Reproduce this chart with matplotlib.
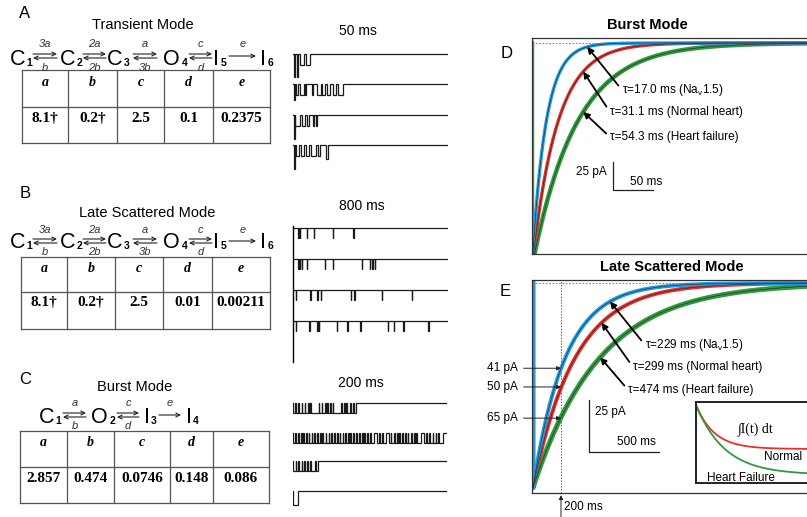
import numpy as np
import matplotlib
matplotlib.use("Agg")
import matplotlib.pyplot as plt
from matplotlib.transforms import blended_transform_factory

plt.rcParams["font.family"] = ["Liberation Sans", "DejaVu Sans"]
plt.rcParams["mathtext.fontset"] = "custom"
plt.rcParams["mathtext.rm"] = "Liberation Sans"
plt.rcParams["mathtext.it"] = "Liberation Sans:italic"

# ---------------- data ----------------
rate_names = ["a", "b", "c", "d", "e"]
transient_rates = ["8.1\u2020", "0.2\u2020", "2.5", "0.1", "0.2375"]
scattered_rates = ["8.1\u2020", "0.2\u2020", "2.5", "0.01", "0.00211"]
burst_rates = ["2.857", "0.474", "0.0746", "0.148", "0.086"]

# single-channel openings: (start ms, end ms, current level in unitary steps)
transient_openings = [
    [(0.3, 0.7, 2.1), (1.2, 1.6, 2.1), (2.3, 3.4, 1), (4.2, 5.6, 1)],
    [(0.3, 0.6, 1.45), (1.0, 1.6, 1), (2.3, 3.5, 1), (3.9, 4.2, 1), (6.1, 6.5, 1),
     (7.7, 9.0, 1), (9.4, 10.3, 1), (11.0, 11.9, 1), (12.9, 13.9, 1), (14.5, 16.1, 1)],
    [(0.2, 0.5, 2.2), (0.8, 2.2, 1), (3.0, 4.0, 1), (4.6, 5.2, 1), (6.4, 6.9, 1), (7.4, 7.8, 1)],
    [(0.2, 0.5, 2.2), (1.0, 2.0, 1), (2.6, 3.6, 1), (4.2, 5.2, 1), (5.8, 7.4, 1),
     (8.0, 8.6, 1), (10.8, 11.4, 1.3)],
]
scattered_open_times = [
    [26, 36, 72, 108, 206, 310],
    [26, 36, 46, 72, 165, 206, 356, 397, 408, 423],
    [15, 88, 124, 144, 299, 315, 459, 614],
    [15, 83, 124, 134, 227, 279, 346, 490, 521, 568, 697],
]
scattered_open_duration = 2.5  # ms
burst_openings = [
    [(0.5, 3), (4, 7), (8, 11), (12, 15), (16, 19), (20, 22.5), (23.5, 33), (34, 37),
     (38, 41), (42, 44.5), (45.5, 48), (49, 51), (52, 62), (63, 66), (67, 69),
     (70, 73), (75, 77), (79, 81)],
    [(0.5, 3), (4, 6.5), (7.5, 10), (11, 13), (14, 17), (18, 20), (21, 24), (25, 27.5),
     (28.5, 31), (32, 35), (36, 38), (39, 42), (43, 46), (47, 49), (50, 53), (54, 56.5),
     (57.5, 60), (61, 64), (65, 67), (68, 71), (72, 74), (75, 78), (79, 81.5), (82.5, 85),
     (86, 89), (90, 92), (93, 96), (97, 99), (100, 104), (108.5, 111), (112, 115),
     (116, 119.5), (123.5, 126), (127, 130), (131, 134), (135, 137), (138, 141),
     (142, 145), (146, 148), (149, 152), (153, 156), (157, 159), (160, 165.5),
     (169.5, 172), (173, 176), (177, 180), (181, 184), (185, 187), (188, 193.5)],
    [(0.5, 3.5), (4.5, 7), (8, 11), (12, 14.5), (15.5, 18), (19, 22), (23, 29), (30, 32)],
    [(0.5, 7, 1.4)],
]

series_names = ["Na$_\\mathrm{v}$1.5", "Normal heart", "Heart failure"]
burst_tau = [17.0, 31.1, 54.3]        # ms
late_tau = [229, 299, 474]            # ms
burst_peak = 200.0                    # pA
late_peak = 98.5                      # pA
late_at_200 = [41, 50, 65]            # pA at 200 ms
inset_names = ["Normal", "Heart Failure"]
inset_tau = [299, 474]

colors = ["#1f9be3", "#e5302b", "#2f9a3c"]

# ---------------- figure ----------------
W, H = 807, 517
fig = plt.figure(figsize=(W / 100, H / 100), dpi=100)


def px_axes(l, t, r, b, **kw):
    return fig.add_axes([l / W, 1 - b / H, (r - l) / W, (b - t) / H], **kw)


ov = px_axes(0, 0, W, H)
ov.set_xlim(0, W)
ov.set_ylim(H, 0)
ov.axis("off")

serif = ["Liberation Serif", "DejaVu Serif"]


def draw_scheme(base, arrow_y, lab_top, lab_bot, states, arrows, size=15.5):
    for letter, x, sub, xs in states:
        ov.text(x, base, letter, fontsize=size, ha="center", va="baseline")
        ov.text(xs, base + 1, sub, fontsize=7.5, fontweight="bold", ha="center", va="baseline")
    for x0, x1, top, bot in arrows:
        xm = (x0 + x1) / 2
        ap = dict(arrowstyle="->", lw=0.8, color="#222", shrinkA=0, shrinkB=0,
                  mutation_scale=7)
        if bot is None:
            ov.annotate("", xy=(x1, arrow_y + 2), xytext=(x0, arrow_y + 2), arrowprops=ap)
        else:
            ov.annotate("", xy=(x1, arrow_y), xytext=(x0, arrow_y), arrowprops=ap)
            ov.annotate("", xy=(x0, arrow_y + 4), xytext=(x1, arrow_y + 4), arrowprops=ap)
            ov.text(xm, lab_bot, bot, fontsize=8, style="italic", ha="center",
                    va="baseline", color="#333")
        ov.text(xm, lab_top, top, fontsize=8, style="italic", ha="center",
                va="baseline", color="#333")


def draw_table(xs, top, mid, bot, values):
    kw = dict(color="#555", lw=0.9)
    for y in (top, mid, bot):
        ov.plot([xs[0], xs[-1]], [y, y], **kw)
    for x in xs:
        ov.plot([x, x], [top, bot], **kw)
    for i in range(5):
        xc = (xs[i] + xs[i + 1]) / 2
        ov.text(xc, top + 12, rate_names[i], family=serif, fontsize=10,
                fontweight="bold", style="italic", ha="center", va="center")
        ov.text(xc, mid + 11, values[i], family=serif, fontsize=11,
                fontweight="bold", ha="center", va="center")


six_state = [("C", 17.5, "1", 29.5), ("C", 67.5, "2", 79.5), ("C", 114.5, "3", 126.5),
             ("O", 171.5, "4", 185), ("I", 216, "5", 223.5), ("I", 263, "6", 270.5)]
six_arrows = [(33, 57, "3a", "b"), (83, 106, "2a", "2b"), (133, 157, "a", "3b"),
              (189, 212, "c", "d"), (229, 256, "e", None)]

# Panel A
ov.text(25, 14, "A", fontsize=12, ha="center", va="center")
ov.text(143, 25, "Transient Mode", fontsize=10.5, ha="center", va="center")
draw_scheme(65, 54, 47, 71, six_state, six_arrows)
draw_table([22, 68, 117, 164, 213, 270], 70, 107, 143, transient_rates)

# Panel B
ov.text(25, 193, "B", fontsize=12, ha="center", va="center")
ov.text(147, 213, "Late Scattered Mode", fontsize=10.5, ha="center", va="center")
draw_scheme(248, 239, 233, 255, six_state, six_arrows)
draw_table([21, 67, 115, 163, 212, 270], 257, 292, 329, scattered_rates)

# Panel C
ov.text(25, 380, "C", fontsize=12, ha="center", va="center")
ov.text(135, 387, "Burst Mode", fontsize=10.5, ha="center", va="center")
draw_scheme(423, 413, 406, 429,
            [("C", 46.5, "1", 58.5), ("O", 99, "2", 112), ("I", 147, "3", 154), ("I", 189, "4", 196)],
            [(63, 86, "a", "b"), (117, 139, "c", "d"), (159, 181, "e", None)])
draw_table([20, 67, 114, 170, 213, 269], 431, 467, 503, burst_rates)


# ---------------- single-channel traces ----------------
def step_trace(ax, openings, t_end, base, unit):
    xs, ys = [0], [base]
    for ev in openings:
        t0, t1 = ev[0], ev[1]
        lvl = ev[2] if len(ev) > 2 else 1
        low = base - lvl * unit
        xs += [t0, t0, t1, t1]
        ys += [base, low, low, base]
    xs.append(t_end)
    ys.append(base)
    ax.plot(xs, ys, color="#1a1a1a", lw=0.9, solid_joinstyle="miter")


def trace_axes(l, t, r, b, xmax, ymin, ymax):
    ax = px_axes(l, t, r, b)
    ax.set_xlim(0, xmax)
    ax.set_ylim(ymin, ymax)
    ax.set_xticks([])
    ax.set_yticks([])
    for s in ax.spines.values():
        s.set_visible(False)
    ax.patch.set_alpha(0)
    return ax


ax50 = trace_axes(293, 44, 448, 172, 50, -10.7, 0.9)
for k, ops in enumerate(transient_openings):
    step_trace(ax50, ops, 50, -k * 2.75, 1.0)
ov.text(358, 31, "50 ms", fontsize=10, ha="center", va="center")

ax800 = trace_axes(293, 220, 448, 365, 800, -13.7, 0.8)
for k, times in enumerate(scattered_open_times):
    ops = [(t, t + scattered_open_duration) for t in times]
    step_trace(ax800, ops, 800, -k * 3.1, 1.0)
ax800.spines["left"].set_visible(True)
ax800.spines["left"].set_bounds(-13.4, 0.2)
ax800.spines["left"].set_linewidth(1.0)
ov.text(362, 206, "800 ms", fontsize=10, ha="center", va="center")

ax200 = trace_axes(293, 395, 448, 510, 200, -10.7, 0.8)
for k, ops in enumerate(burst_openings):
    step_trace(ax200, ops, 198, -[0, 3.0, 5.8, 8.8][k], 1.0)
ov.text(361, 383, "200 ms", fontsize=10, ha="center", va="center")


# ---------------- D and E: ensemble currents ----------------
def current_axes(l, t, r, b, xlim, ylim):
    ax = px_axes(l, t, r, b)
    ax.set_xlim(*xlim)
    ax.set_ylim(*ylim)
    ax.set_xticks([])
    ax.set_yticks([])
    for s in ax.spines.values():
        s.set_linewidth(0.9)
        s.set_color("#333")
    ax.axhline(0, color="#6f88c4", lw=0.8, ls=(0, (1.5, 1.5)), zorder=1)
    return ax


def decay(t, peak, tau):
    return -peak * np.exp(-t / tau)


arrow_kw = dict(arrowstyle="-|>", lw=1.3, color="k", mutation_scale=9,
                shrinkA=1, shrinkB=0, relpos=(0, 0.5))
fit_kw = dict(color="#2a2a2a", lw=0.45, zorder=3)

# D: burst mode
axd = current_axes(532, 38, 812, 254, (0, 350), (-188.4, 4.46))
td = np.linspace(0, 350, 700)
for i in (2, 1, 0):
    y = decay(td, burst_peak, burst_tau[i])
    axd.plot(np.r_[0, td], np.r_[0, y], color=colors[i], lw=[2.4, 2.4, 3.2][i], zorder=2)
for i in range(3):
    axd.plot(td, decay(td, burst_peak, burst_tau[i]), **fit_kw)
d_text = [(112.5, -42), (97.5, -61.6), (97.5, -84)]
d_tip_t = [69, 64, 64]
for i in range(3):
    axd.annotate(f"\u03c4={burst_tau[i]:.1f} ms ({series_names[i]})",
                 xy=(d_tip_t[i], decay(d_tip_t[i], burst_peak, burst_tau[i])),
                 xytext=d_text[i], fontsize=8.5, ha="left", va="center",
                 arrowprops=arrow_kw, zorder=4)
axd.plot([101, 101, 151], [-106, -131, -131], color="#222", lw=0.9)
axd.text(94, -115, "25 pA", fontsize=8.5, ha="right", va="center")
axd.text(122, -124, "50 ms", fontsize=8.5, ha="left", va="center")
ov.text(647, 25, "Burst Mode", fontsize=10.5, fontweight="bold", ha="center", va="center")
ov.text(507, 53, "D", fontsize=12, ha="center", va="center")

# E: late scattered mode
axe = current_axes(532, 280, 812, 493, (-7.1, 1993), (-101, 1.44))
te = np.linspace(0, 1993, 900)
for i in (2, 1, 0):
    y = decay(te, late_peak, late_tau[i])
    axe.plot(np.r_[0, te], np.r_[0, y], color=colors[i], lw=[2.8, 2.8, 3.6][i], zorder=2)
for i in range(3):
    axe.plot(te, decay(te, late_peak, late_tau[i]), **fit_kw)
axe.axvline(200, color="#666", lw=0.7, ls=(0, (1.5, 1.5)), zorder=1)
e_text = [(800, -29.8), (714, -40.4), (679, -51.4)]
e_tip_t = [550, 490, 480]
for i in range(3):
    axe.annotate(f"\u03c4={late_tau[i]:d} ms ({series_names[i]})",
                 xy=(e_tip_t[i], decay(e_tip_t[i], late_peak, late_tau[i])),
                 xytext=e_text[i], fontsize=8.5, ha="left", va="center",
                 arrowprops=arrow_kw, zorder=4)
for v in late_at_200:
    axe.annotate(f"{v} pA", xy=(200, -v), xytext=(-107, -v), fontsize=8.5,
                 ha="right", va="center", annotation_clip=False,
                 arrowprops=dict(arrowstyle="-|>", lw=0.7, color="#222",
                                 mutation_scale=6, shrinkA=2, shrinkB=0))
blend = blended_transform_factory(axe.transData, axe.transAxes)
axe.annotate("", xy=(200, -0.01), xycoords=blend, xytext=(200, -0.13),
             textcoords=blend, annotation_clip=False,
             arrowprops=dict(arrowstyle="-|>", lw=0.7, color="#222",
                             mutation_scale=6, shrinkA=0, shrinkB=0))
axe.text(221, -0.066, "200 ms", transform=blend, fontsize=8.5, ha="left",
         va="center", clip_on=False)
axe.plot([400, 400, 900], [-56.2, -81.2, -81.2], color="#222", lw=0.9)
axe.text(443, -62, "25 pA", fontsize=8.5, ha="left", va="center")
axe.text(600, -76.4, "500 ms", fontsize=8.5, ha="left", va="center")
ov.text(672, 267, "Late Scattered Mode", fontsize=10.5, fontweight="bold",
        ha="center", va="center")
ov.text(505, 292, "E", fontsize=12, ha="center", va="center")

# inset: integrated late current
axi = px_axes(696, 402, 812, 483)
axi.set_zorder(5)
axi.set_xlim(0, 1900)
axi.set_ylim(-52260, 2010)
axi.set_xticks([])
axi.set_yticks([])
for s in axi.spines.values():
    s.set_linewidth(1.4)
    s.set_color("#222")
ti = np.linspace(0, 1900, 400)
for tau, c in zip(inset_tau, [colors[1], colors[2]]):
    axi.plot(ti, -late_peak * tau * (1 - np.exp(-ti / tau)), color=c, lw=1.3)
axi.text(0.517, 0.654, "\u222bI(t) dt", family=serif, fontsize=10,
         transform=axi.transAxes, ha="center", va="center")
axi.text(0.914, 0.32, inset_names[0], fontsize=8.5, transform=axi.transAxes,
         ha="right", va="center")
axi.text(0.095, 0.062, inset_names[1], fontsize=8.5, transform=axi.transAxes,
         ha="left", va="center")

fig.savefig("out.png", dpi=100)
